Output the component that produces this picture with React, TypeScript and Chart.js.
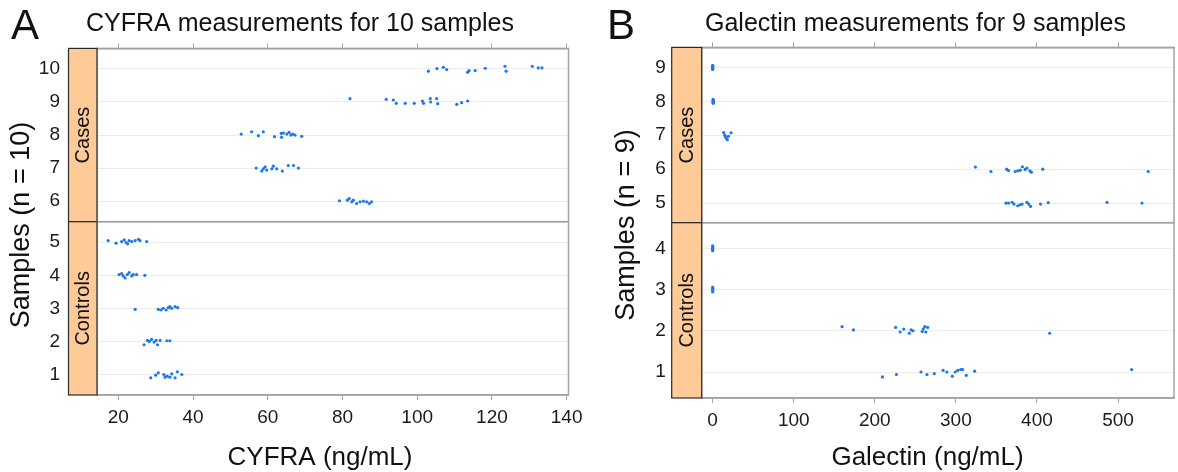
import React, { useEffect, useRef } from "react";
import { Chart, registerables } from "chart.js";
Chart.register(...registerables);

// ---------- Panel A: CYFRA (x value, jittered sample position) ----------
const cyfraSample10: [number, number][] = [[103.0, 9.93], [105.3, 10.01], [107.0, 10.05], [107.9, 9.98], [113.5, 9.9], [113.9, 9.95], [115.5, 9.95], [118.2, 10.02], [123.5, 10.08], [123.8, 9.93], [130.8, 10.08], [132.4, 10.03], [133.4, 10.03]];
const cyfraSample9: [number, number][] = [[82.0, 9.1], [91.7, 9.08], [93.6, 9.06], [94.4, 8.96], [96.8, 8.96], [99.2, 8.96], [101.4, 9.03], [101.7, 8.96], [103.5, 9.1], [103.6, 9.0], [105.2, 9.1], [105.5, 8.95], [110.6, 8.93], [111.9, 8.98], [113.5, 9.03]];
const cyfraSample8: [number, number][] = [[52.9, 8.03], [55.7, 8.1], [57.5, 7.98], [58.8, 8.1], [61.8, 7.95], [63.6, 8.05], [63.7, 7.93], [64.2, 8.06], [65.1, 8.03], [65.7, 8.08], [66.2, 8.0], [66.7, 8.03], [67.3, 8.0], [69.1, 7.96]];
const cyfraSample7: [number, number][] = [[56.9, 7.0], [58.4, 6.91], [58.8, 6.98], [59.3, 7.04], [59.7, 6.94], [61.1, 6.98], [61.5, 7.06], [62.4, 6.98], [63.9, 6.91], [65.5, 7.08], [66.9, 7.08], [68.2, 7.0]];
const cyfraSample6: [number, number][] = [[79.2, 6.01], [81.3, 6.03], [81.8, 6.08], [82.5, 5.98], [82.9, 6.03], [83.8, 5.93], [84.7, 5.98], [85.6, 6.0], [86.5, 5.98], [87.2, 5.93], [87.8, 5.98]];
const cyfraSample5: [number, number][] = [[17.3, 5.05], [19.4, 4.97], [20.9, 5.02], [21.6, 5.07], [22.1, 4.99], [22.5, 4.95], [22.9, 5.05], [23.6, 5.02], [24.5, 5.05], [25.4, 5.09], [25.8, 5.05], [27.6, 5.02]];
const cyfraSample4: [number, number][] = [[20.2, 4.02], [20.9, 4.05], [21.3, 3.98], [21.8, 3.92], [22.4, 4.02], [22.9, 4.08], [23.6, 3.98], [24.0, 4.02], [24.9, 4.02], [27.1, 4.0]];
const cyfraSample3: [number, number][] = [[24.5, 2.97], [30.7, 2.97], [31.4, 2.95], [32.0, 3.0], [32.8, 2.95], [33.4, 3.02], [33.8, 3.05], [34.3, 3.0], [35.2, 3.05], [35.9, 3.02]];
const cyfraSample2: [number, number][] = [[26.9, 1.9], [27.8, 2.03], [28.3, 2.0], [28.9, 2.06], [29.6, 1.98], [30.1, 2.03], [30.5, 1.9], [31.2, 2.03], [33.0, 2.02], [33.8, 2.02]];
const cyfraSample1: [number, number][] = [[28.7, 0.9], [30.0, 0.98], [30.7, 1.05], [32.2, 1.0], [32.5, 0.92], [33.1, 0.95], [33.8, 0.92], [34.3, 1.02], [35.2, 0.9], [35.8, 1.08], [37.0, 1.0]];

// ---------- Panel B: Galectin ----------
const galSample9: [number, number][] = [[0.0, 9.06], [0.3, 9.03], [-0.2, 9.0], [0.2, 8.97], [0.0, 8.94]];
const galSample8: [number, number][] = [[0.6, 8.06], [0.9, 8.03], [0.4, 8.0], [0.9, 7.97], [0.6, 7.94]];
const galSample7: [number, number][] = [[13.6, 7.08], [15.0, 7.0], [15.9, 6.95], [17.2, 6.9], [18.1, 6.87], [19.5, 6.97], [22.7, 7.07]];
const galSample6: [number, number][] = [[324.1, 6.06], [343.2, 5.93], [362.6, 6.0], [364.9, 5.96], [373.1, 5.93], [376.3, 5.95], [379.4, 5.97], [382.1, 6.07], [385.3, 5.99], [387.6, 6.03], [391.2, 5.95], [393.0, 5.91], [407.1, 6.0], [537.2, 5.93]];
const galSample5: [number, number][] = [[361.7, 5.0], [364.9, 5.0], [369.4, 5.02], [371.7, 4.97], [376.3, 4.92], [379.4, 4.95], [381.7, 4.97], [387.6, 5.02], [389.8, 4.97], [392.1, 4.9], [404.4, 4.97], [413.9, 5.01], [486.4, 5.02], [529.5, 5.0]];
const galSample4: [number, number][] = [[0.0, 4.06], [0.3, 4.03], [-0.2, 4.0], [0.2, 3.97], [0.0, 3.94]];
const galSample3: [number, number][] = [[0.0, 3.06], [0.3, 3.03], [-0.2, 3.0], [0.2, 2.97], [0.0, 2.94]];
const galSample2: [number, number][] = [[159.6, 2.1], [173.6, 2.02], [225.7, 2.08], [231.2, 1.97], [235.7, 2.04], [242.5, 1.94], [244.8, 2.02], [247.1, 2.0], [258.4, 1.98], [259.7, 2.04], [261.6, 2.1], [262.9, 1.97], [265.2, 2.08], [415.7, 1.94]];
const galSample1: [number, number][] = [[209.4, 0.88], [226.7, 0.94], [257.0, 1.0], [264.3, 0.94], [273.3, 0.96], [284.2, 1.04], [288.8, 1.0], [295.6, 0.9], [299.2, 1.0], [302.4, 1.04], [306.0, 1.06], [308.3, 1.06], [312.8, 0.92], [323.2, 1.02], [516.8, 1.06]];

// ---------- ticks ----------
const cyfraXTicks = [20, 40, 60, 80, 100, 120, 140];
const cyfraCaseTicks = [6, 7, 8, 9, 10];
const cyfraControlTicks = [1, 2, 3, 4, 5];
const galXTicks = [0, 100, 200, 300, 400, 500];
const galCaseTicks = [5, 6, 7, 8, 9];
const galControlTicks = [1, 2, 3, 4];

const FONT = "'Liberation Sans', Arial, Helvetica, sans-serif";
const POINT = "#1e78e6";
const FRAME = "#a3a3a3";
const GRID = "#ededed";

type Panel = {
  letter: string; title: string; yTitle: string; xTitle: string;
  xMin: number; xMax: number; xTicks: number[];
  caseRange: [number, number]; controlRange: [number, number];
  caseTicks: number[]; controlTicks: number[];
  cases: [number, number][][]; controls: [number, number][][];
  lay: {
    padTop: number; padRight: number; yWidth: number; xHeight: number; strip: number; tickPad: number;
    letterX: number; titleX: number; yTitleX: number; yTitleY: number; xTitleX: number; xTitleY: number;
  };
};

const panelA: Panel = {
  letter: "A", title: "CYFRA measurements for 10 samples", yTitle: "Samples (n = 10)", xTitle: "CYFRA (ng/mL)",
  xMin: 14.3, xMax: 140.5, xTicks: cyfraXTicks,
  caseRange: [5.38, 10.62], controlRange: [0.38, 5.62],
  caseTicks: cyfraCaseTicks, controlTicks: cyfraControlTicks,
  cases: [cyfraSample10, cyfraSample9, cyfraSample8, cyfraSample7, cyfraSample6],
  controls: [cyfraSample5, cyfraSample4, cyfraSample3, cyfraSample2, cyfraSample1],
  lay: { padTop: 40, padRight: 20.5, yWidth: 97, xHeight: 77, strip: 28.5, tickPad: 37,
    letterX: 11, titleX: 86, yTitleX: 22, yTitleY: 225, xTitleX: 320, xTitleY: 465 },
};

const panelB: Panel = {
  letter: "B", title: "Galectin measurements for 9 samples", yTitle: "Samples (n = 9)", xTitle: "Galectin (ng/mL)",
  xMin: -13.5, xMax: 569, xTicks: galXTicks,
  caseRange: [4.42, 9.59], controlRange: [0.37, 4.62],
  caseTicks: galCaseTicks, controlTicks: galControlTicks,
  cases: [galSample9, galSample8, galSample7, galSample6, galSample5],
  controls: [galSample4, galSample3, galSample2, galSample1],
  lay: { padTop: 41, padRight: 3, yWidth: 112.7, xHeight: 74, strip: 30, tickPad: 36,
    letterX: 18, titleX: 116, yTitleX: 38, yTitleY: 225, xTitleX: 338.5, xTitleY: 465 },
};

function makeChart(canvas: HTMLCanvasElement, p: Panel) {
  const L = p.lay;
  const ds = (pts: [number, number][], axis: string) => ({
    data: pts.map(([x, y]) => ({ x, y })),
    xAxisID: "x", yAxisID: axis,
    pointRadius: 1.6, pointBorderWidth: 0, pointBackgroundColor: POINT, pointBorderColor: POINT,
    showLine: false,
  });
  const setTicks = (vals: number[]) => (s: any) => { s.ticks = vals.map((v) => ({ value: v })); };
  const yAxis = (range: [number, number], vals: number[], weight: number) => ({
    type: "linear", position: "left", stack: "facets", stackWeight: 1, weight,
    min: range[0], max: range[1],
    afterBuildTicks: setTicks(vals),
    afterFit: (s: any) => { s.width = L.yWidth; },
    ticks: { color: "#1a1a1a", padding: L.tickPad, font: { family: FONT, size: 19 } },
    grid: { color: GRID, lineWidth: 1, drawTicks: false },
    border: { display: false },
  });

  const facetPlugin = {
    id: "facets",
    afterDraw(chart: any) {
      const ctx = chart.ctx as CanvasRenderingContext2D;
      const { left, right } = chart.chartArea;
      const facets: [any, string][] = [[chart.scales.yCases, "Cases"], [chart.scales.yControls, "Controls"]];
      ctx.save();
      for (const [s, label] of facets) {
        ctx.strokeStyle = FRAME; ctx.lineWidth = 1.5;
        ctx.strokeRect(left, s.top, right - left, s.bottom - s.top);
        ctx.fillStyle = "#fdca98";
        ctx.fillRect(left - L.strip, s.top, L.strip, s.bottom - s.top);
        ctx.strokeStyle = "#2a2a2a"; ctx.lineWidth = 1.2;
        ctx.strokeRect(left - L.strip, s.top, L.strip, s.bottom - s.top);
        ctx.save();
        ctx.translate(left - L.strip / 2, (s.top + s.bottom) / 2);
        ctx.rotate(-Math.PI / 2);
        ctx.fillStyle = "#111"; ctx.font = `20px ${FONT}`;
        ctx.textAlign = "center"; ctx.textBaseline = "middle";
        ctx.fillText(label, 0, 1);
        ctx.restore();
      }
      ctx.fillStyle = "#111";
      ctx.textBaseline = "alphabetic"; ctx.textAlign = "left";
      ctx.font = `42px ${FONT}`;
      ctx.fillText(p.letter, L.letterX, 39);
      ctx.font = `25px ${FONT}`;
      ctx.fillText(p.title, L.titleX, 31);
      ctx.textAlign = "center";
      ctx.font = `26px ${FONT}`;
      ctx.fillText(p.xTitle, L.xTitleX, L.xTitleY);
      ctx.save();
      ctx.translate(L.yTitleX, L.yTitleY);
      ctx.rotate(-Math.PI / 2);
      ctx.textBaseline = "middle";
      ctx.font = `27px ${FONT}`;
      ctx.fillText(p.yTitle, 0, 0);
      ctx.restore();
      ctx.restore();
    },
  };

  return new Chart(canvas, {
    type: "scatter",
    data: {
      datasets: [
        ...p.cases.map((d) => ds(d, "yCases")),
        ...p.controls.map((d) => ds(d, "yControls")),
      ],
    },
    options: {
      animation: false,
      responsive: false,
      devicePixelRatio: 1,
      layout: { padding: { top: L.padTop, left: 0, right: L.padRight, bottom: 0 } },
      plugins: { legend: { display: false }, tooltip: { enabled: false }, title: { display: false } },
      scales: {
        x: {
          type: "linear", position: "bottom", min: p.xMin, max: p.xMax,
          afterBuildTicks: setTicks(p.xTicks),
          afterFit: (s: any) => { s.height = L.xHeight; },
          ticks: { color: "#1a1a1a", padding: 6, font: { family: FONT, size: 19 } },
          grid: { drawOnChartArea: false, tickLength: 5, color: FRAME },
          border: { display: true, color: FRAME, width: 1.5 },
        },
        xTop: {
          type: "linear", position: "top", min: p.xMin, max: p.xMax,
          afterBuildTicks: setTicks(p.xTicks),
          afterFit: (s: any) => { s.height = 5; },
          ticks: { display: false },
          grid: { drawOnChartArea: false, tickLength: 5, color: FRAME },
          border: { display: true, color: FRAME, width: 1.5 },
        },
        yControls: yAxis(p.controlRange, p.controlTicks, 1),
        yCases: yAxis(p.caseRange, p.caseTicks, 2),
      } as any,
    },
    plugins: [facetPlugin],
  } as any);
}

function PanelChart({ panel, left }: { panel: Panel; left: number }) {
  const ref = useRef<HTMLCanvasElement | null>(null);
  useEffect(() => {
    if (!ref.current) return;
    const c = makeChart(ref.current, panel);
    return () => c.destroy();
  }, [panel]);
  return (
    <canvas ref={ref} width={589} height={472}
      style={{ position: "absolute", left, top: 0, width: 589, height: 472 }} />
  );
}

export default function App() {
  return (
    <div style={{ position: "absolute", left: 0, top: 0, width: 1178, height: 472, background: "#fff", overflow: "hidden" }}>
      <PanelChart panel={panelA} left={0} />
      <PanelChart panel={panelB} left={589} />
    </div>
  );
}
